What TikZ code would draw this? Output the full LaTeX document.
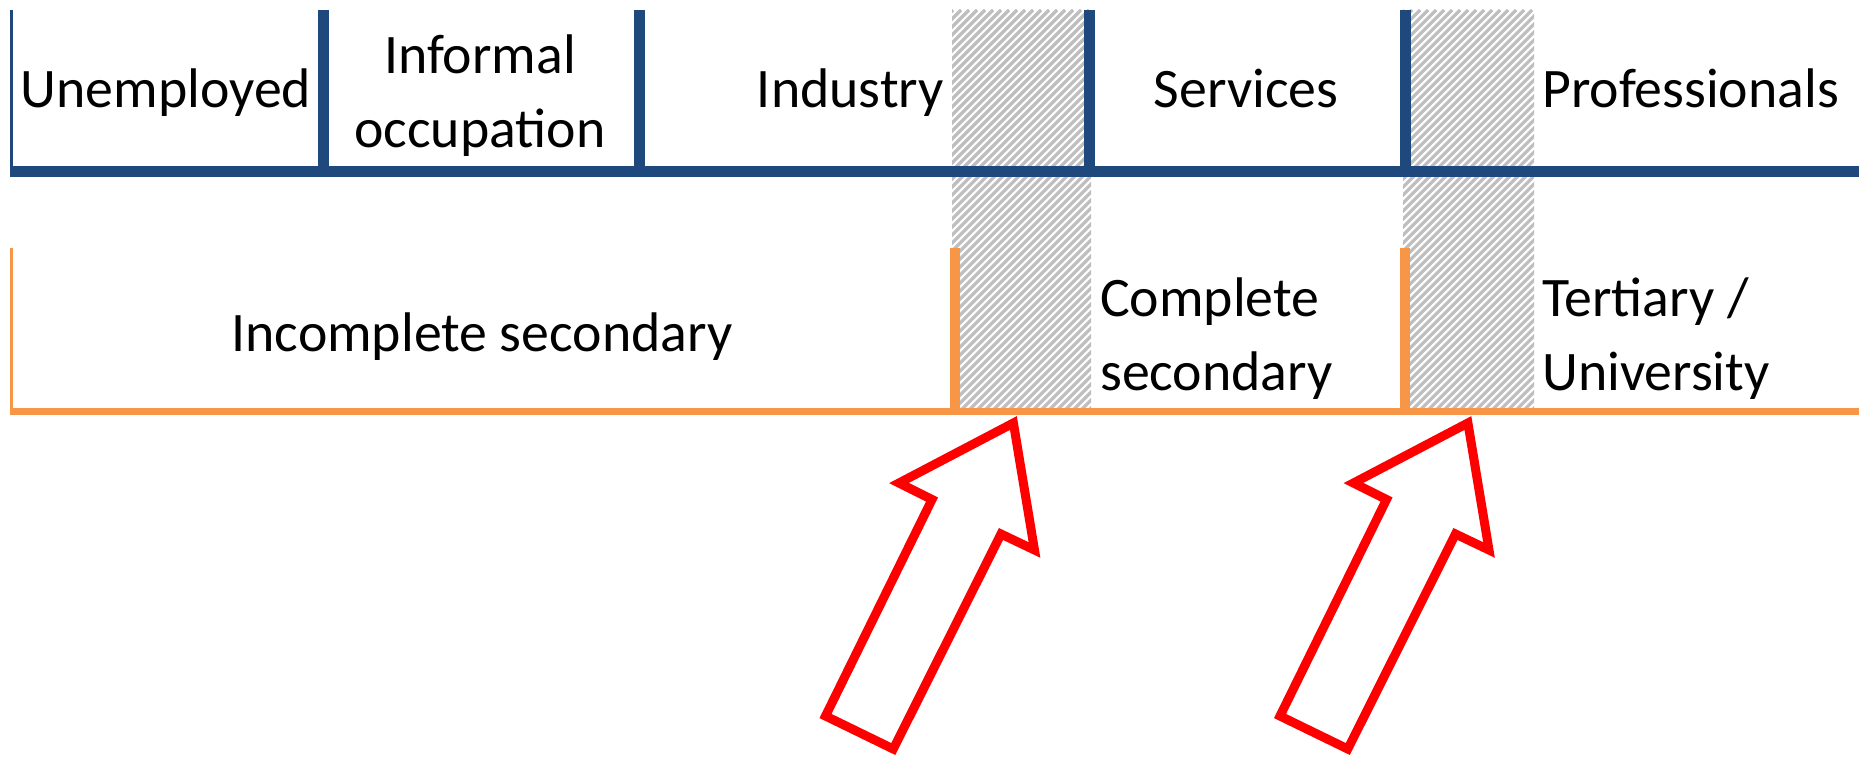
\documentclass[tikz,border=0pt]{standalone}
\usepackage{fontspec}
\setmainfont{Carlito}
\definecolor{hdrblue}{RGB}{31,73,125}
\definecolor{eduorange}{RGB}{247,150,70}
\definecolor{hatchgray}{RGB}{190,190,190}
\definecolor{arrowred}{RGB}{255,0,0}
\begin{document}
\begin{tikzpicture}[x=1bp,y=-1bp,
  lbl/.style={font=\fontsize{56}{74}\selectfont, inner sep=0pt, text=black},
  hatchline/.style={draw=hatchgray, line width=3.2bp},
  bluebar/.style={draw=hdrblue, line width=11bp},
  bluethin/.style={draw=hdrblue, line width=3bp},
  orangebar/.style={draw=eduorange, line width=10bp},
  orangethin/.style={draw=eduorange, line width=3bp},
  orangebase/.style={draw=eduorange, line width=6.5bp},
  blockarrow/.style={draw=arrowred, fill=white, line width=9bp, miter limit=20}]
\useasboundingbox (0,0) rectangle (1859,757);
\fill[white] (0,0) rectangle (1859,757);

% hatched gaps
\begin{scope}
  \clip (952,10) rectangle (1091,411);
  \foreach \k in {-52,...,18} \draw[hatchline] (952+\k*8,411) -- ++(401,-401);
\end{scope}
\begin{scope}
  \clip (1403,10) rectangle (1534,411);
  \foreach \k in {-52,...,18} \draw[hatchline] (1403+\k*8,411) -- ++(401,-401);
\end{scope}

% occupation row (blue)
\coordinate (bl) at (10,171.5);
\coordinate (br) at (1859,171.5);
\draw[bluethin] (11.3,10) -- (11.3,171.5);
\foreach \x in {323.5,639,1089,1405} \draw[bluebar] (\x,10) -- (\x,171.5);
\draw[bluebar] (bl) -- (br);

\node[lbl, anchor=base] (unemp) at (166,107) {Unemployed};
\node[lbl, anchor=base, align=center] (informal) at (480,147) {Informal\\occupation};
\node[lbl, anchor=base east] (industry) at (944,107) {Industry};
\node[lbl, anchor=base] (services) at (1246,107) {Services};
\node[lbl, anchor=base west] (prof) at (1542,107) {Professionals};

% education row (orange)
\coordinate (ol) at (10,411.5);
\coordinate (or) at (1859,411.5);
\draw[orangethin] (11.3,248) -- (11.3,411.5);
\foreach \x in {954.5,1405} \draw[orangebar] (\x,248) -- (\x,411.5);
\draw[orangebase] (ol) -- (or);

\node[lbl, anchor=base] (incsec) at (482,351) {Incomplete secondary};
\node[lbl, anchor=base west, align=left] (compsec) at (1100,390) {Complete\\secondary};
\node[lbl, anchor=base west, align=left] (tert) at (1542,390) {Tertiary /\\University};

% block arrows
\foreach \s in {0,454.5} {
  \draw[blockarrow, shift={(\s,0)}] (1013.4,423) -- (899,483) -- (932,499.5)
     -- (825.5,716) -- (893.3,749) -- (1001,534) -- (1034.5,550) -- cycle;
}
\end{tikzpicture}
\end{document}
